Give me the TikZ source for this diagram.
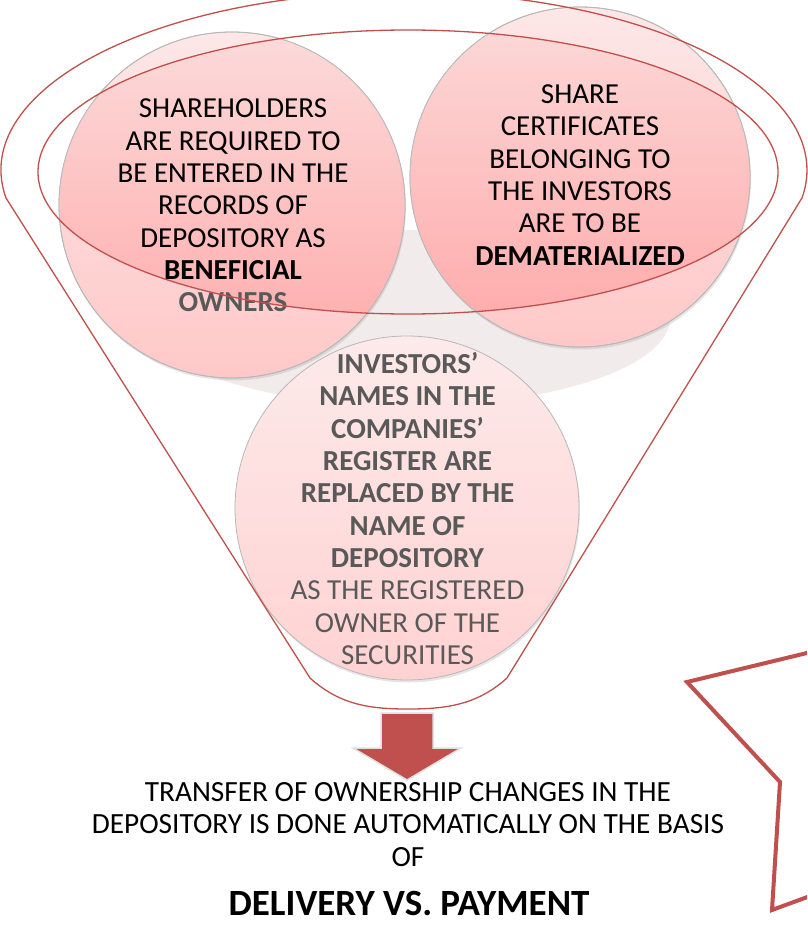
\documentclass[tikz,border=0pt]{standalone}
\usepackage{fontspec}
\setmainfont{Carlito}
\usetikzlibrary{shadows}
\definecolor{fred}{HTML}{C0504D}
\definecolor{tgrey}{HTML}{595959}
\definecolor{shadegrey}{HTML}{F2EBEB}
\definecolor{pinkA}{HTML}{FDE7E7}
\definecolor{pinkB}{HTML}{FFC8C8}
\definecolor{pinkC}{HTML}{FCDADA}
\definecolor{pinkD}{HTML}{FFA8A8}
\definecolor{pinkE}{HTML}{FDEAEA}
\definecolor{pinkF}{HTML}{FFD2D2}
\begin{document}
\begin{tikzpicture}[x=1pt,y=-1pt,
  bubble/.style={circle, inner sep=0pt, draw=black!28, line width=0.8pt,
    drop shadow={shadow xshift=1pt, shadow yshift=-2.5pt, opacity=0.2}},
  bubbleborder/.style={draw=black!28, line width=0.8pt},
  bubbletext/.style={align=center, inner sep=0pt, font=\fontsize{29}{32.3}\selectfont},
  funnelline/.style={draw=fred, line width=1.3pt},
  bottomtext/.style={align=center, inner sep=0pt, font=\fontsize{29.3}{32.5}\selectfont},
  calloutline/.style={draw=fred, line width=4pt, fill=white, line join=miter}]
\useasboundingbox (0,0) rectangle (807,933);
\fill[white] (0,0) rectangle (807,933);
% grey interior shadow of the funnel
\fill[shadegrey] (408,318) ellipse [x radius=262pt, y radius=88pt];
% circles
\node[bubble, minimum size=346pt, top color=pinkA, bottom color=pinkB] (c1) at (232,205) {};
\node[bubble, minimum size=340pt, top color=pinkA, bottom color=pinkB] (c2) at (580,177) {};
\node[bubble, minimum size=344pt, top color=pinkE, bottom color=pinkF] (c3) at (407,508) {};
% darker tint of the circles inside the rim
\begin{scope}
  \clip (408,172) ellipse [x radius=370pt, y radius=142pt];
  \shade[top color=pinkC, bottom color=pinkD] (c1.center) circle [radius=173pt];
  \shade[top color=pinkC, bottom color=pinkD] (c2.center) circle [radius=170pt];
\end{scope}
\draw[bubbleborder] (c1.center) circle [radius=173pt];
\draw[bubbleborder] (c2.center) circle [radius=170pt];
% texts
\node[bubbletext] (t1) at (233,205.5) {SHAREHOLDERS\\ARE REQUIRED TO\\BE ENTERED IN THE\\RECORDS OF\\DEPOSITORY AS\\\textbf{BENEFICIAL}\\\textcolor{tgrey}{\textbf{OWNERS}}};
\node[bubbletext] (t2) at (580,175) {SHARE\\CERTIFICATES\\BELONGING TO\\THE INVESTORS\\ARE TO BE\\\textbf{DEMATERIALIZED}};
\node[bubbletext, text=tgrey] (t3) at (407.5,508.5) {\textbf{INVESTORS’}\\\textbf{NAMES IN THE}\\\textbf{COMPANIES’}\\\textbf{REGISTER ARE}\\\textbf{REPLACED BY THE}\\\textbf{NAME OF}\\\textbf{DEPOSITORY}\\AS THE REGISTERED\\OWNER OF THE\\SECURITIES};
% funnel outline
\draw[funnelline] (6,198) arc [start angle=189.05, end angle=-9.05, x radius=403pt, y radius=178pt]
  -- (507,678) .. controls (477,705) and (446,709) .. (408,709)
  .. controls (370,709) and (340,705) .. (310,678) -- cycle;
\draw[funnelline] (408,172) ellipse [x radius=370pt, y radius=142pt];
% arrow
\draw[fill=fred, draw=black!12, line width=1.5pt, line join=miter]
  (381,713) -- (433,713) -- (433,748) -- (461,748) -- (407,780) -- (353,748) -- (381,748) -- cycle;
% bottom texts
\node[bottomtext] (b1) at (408,824.5) {TRANSFER OF OWNERSHIP CHANGES IN THE\\DEPOSITORY IS DONE AUTOMATICALLY ON THE BASIS\\OF};
\node[anchor=base, inner sep=0pt, font=\bfseries\fontsize{37}{42}\selectfont] (dvp) at (409,915) {DELIVERY VS. PAYMENT};
% callout at the right
\begin{scope}
  \clip (0,0) rectangle (807,933);
  \draw[calloutline] (840,645) -- (687,682) -- (780,782) -- (772,910) -- (840,885) -- cycle;
\end{scope}
\end{tikzpicture}
\end{document}
